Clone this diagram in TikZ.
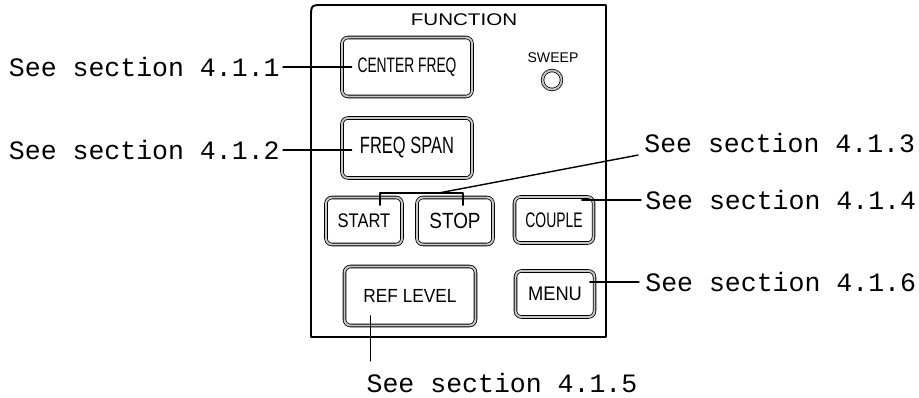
\documentclass[tikz,border=0pt]{standalone}
\usepackage{fontspec}
\setmainfont{Liberation Sans}
\setmonofont{Liberation Mono}
\usepackage{graphicx}
\usetikzlibrary{calc,positioning}

% key caption: size, horizontal squeeze, text
\newcommand{\keytext}[3]{\fontsize{#1}{#1}\selectfont\scalebox{#2}[1]{#3}}

\begin{document}
\begin{tikzpicture}[x=0.2mm, y=-0.2mm, line join=round, line cap=round,
    keybox/.style={draw, line width=0.45pt, double=gray!45, double distance=1.1pt,
        rounded corners=1.2mm, inner sep=0pt},
    seelabel/.style={font=\ttfamily\fontsize{15.1}{18}\selectfont, inner sep=0pt},
    leader/.style={line width=0.8pt}]
    \useasboundingbox (0,0) rectangle (919,398);

    % front panel
    \draw[line width=1.1pt] (311,337) -- (311,18) .. controls (311,5) .. (324,5)
        -- (606,5) -- (606,337) -- cycle;
    \node (func) at (464,20) {\keytext{9.6}{1.22}{FUNCTION}};
    \node (swp) at (553,58) {\keytext{8}{1.0}{SWEEP}};
    \node[draw, circle, line width=0.45pt, double=gray!45, double distance=1pt,
        minimum size=3.8mm, inner sep=0pt] (lamp) at (552,80) {};

    % keys
    \node[keybox, minimum width=26mm, minimum height=11.8mm] (cf) at (407,67)
        {\keytext{11.9}{0.66}{CENTER FREQ}};
    \node[keybox, minimum width=26mm, minimum height=12mm] (fs) at (407,148)
        {\keytext{13.4}{0.70}{FREQ SPAN}};
    \node[keybox, minimum width=15.2mm, minimum height=9.4mm] (start) at (364,221)
        {\keytext{11.2}{0.84}{START}};
    \node[keybox, minimum width=15.2mm, minimum height=9.4mm] (stop) at (455,221)
        {\keytext{12.5}{0.86}{STOP}};
    \node[keybox, minimum width=15.8mm, minimum height=9.2mm] (couple) at (554,220)
        {\keytext{12}{0.66}{COUPLE}};
    \node[keybox, minimum width=26.2mm, minimum height=11.8mm] (ref) at (410,296)
        {\keytext{10.8}{0.91}{REF LEVEL}};
    \node[keybox, minimum width=15.8mm, minimum height=9.2mm] (menu) at (555,294)
        {\keytext{11.2}{0.93}{MENU}};

    % references
    \node[seelabel, anchor=east] (s1) at (280,67) {See section 4.1.1};
    \node[seelabel, anchor=east] (s2) at (280,150) {See section 4.1.2};
    \node[seelabel, anchor=west] (s3) at (644,143) {See section 4.1.3};
    \node[seelabel, anchor=west] (s4) at (645,200) {See section 4.1.4};
    \node[seelabel, anchor=west] (s6) at (645,282) {See section 4.1.6};
    \node[seelabel] (s5) at (502,383) {See section 4.1.5};

    \draw[leader] ([xshift=0.6mm]s1.east) -- ([xshift=2mm]s1.east -| cf.west);
    \draw[leader] ([xshift=0.6mm]s2.east) -- ([xshift=2mm]s2.east -| fs.west);

    \coordinate (k1) at ([shift={(16,8)}]start.north);
    \coordinate (k2) at ([shift={(8,8)}]stop.north);
    \coordinate (k3) at ($(k1)!0.7!(k2)+(0,-12)$);
    \draw[leader] (k1) -- ++(0,-12) -| (k2);
    \draw[leader] ([xshift=-1.2mm,yshift=-0.4mm]s3.south west) -- (k3);

    \draw[leader] ([xshift=-0.8mm]s4.west) -- ([xshift=-2.4mm]s4.west -| couple.east);
    \draw[leader] ([xshift=-1.2mm]s6.west) -- ([xshift=-1mm]s6.west -| menu.east);
    \draw[leader] ([xshift=0.8mm,yshift=2.4mm]s5.north west)
        -- ([xshift=0.8mm,yshift=2mm]s5.north west |- ref.south);
\end{tikzpicture}
\end{document}
